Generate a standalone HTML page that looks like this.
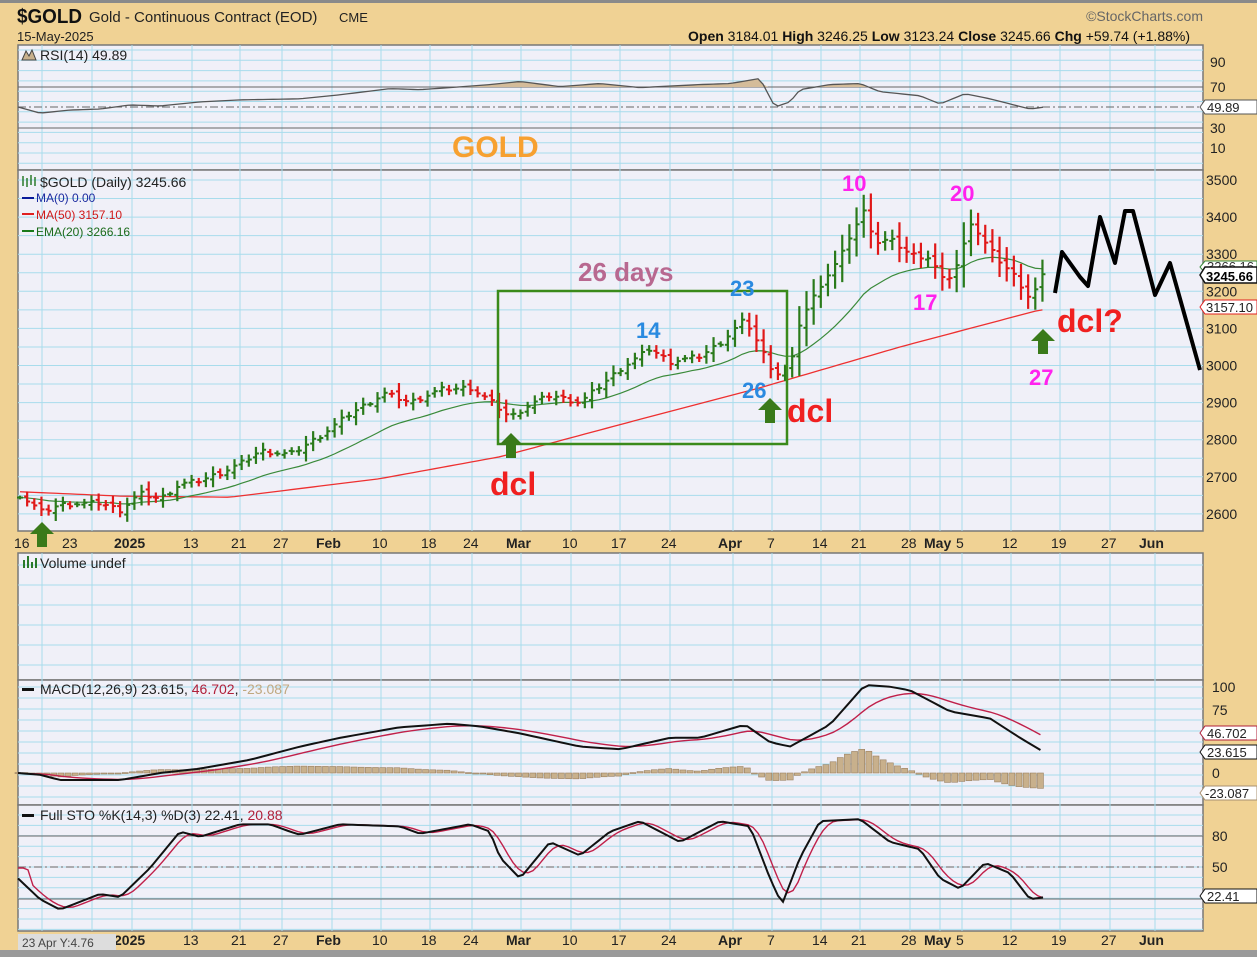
<!DOCTYPE html>
<html><head><meta charset="utf-8"><style>
html,body{margin:0;padding:0;}
body{width:1257px;height:957px;background:#f0d294;overflow:hidden;font-family:"Liberation Sans",sans-serif;}
svg{display:block}
</style></head><body>
<svg id="s" width="1257" height="957" xmlns="http://www.w3.org/2000/svg" font-family="Liberation Sans, sans-serif">
<rect x="0" y="0" width="1257" height="957" fill="#f0d294"/>
<rect x="0" y="0" width="1257" height="3" fill="#8a8a8a"/>
<rect x="0" y="950" width="1257" height="7" fill="#9a9a9a"/>
<g id="panels"></g>
<g id="grid"></g>
<g id="data"></g>
<!-- header -->
<text x="17" y="23" font-size="20" font-weight="bold" fill="#111" textLength="65" lengthAdjust="spacingAndGlyphs">$GOLD</text>
<text x="89" y="22" font-size="15" fill="#222">Gold - Continuous Contract (EOD)</text>
<text x="339" y="22" font-size="13" fill="#222">CME</text>
<text x="17" y="41" font-size="13" fill="#222">15-May-2025</text>
<text x="1203" y="21" font-size="14" fill="#666" text-anchor="end">©StockCharts.com</text>
<text x="1190" y="41" font-size="14" fill="#111" text-anchor="end"><tspan font-weight="bold">Open</tspan> 3184.01 <tspan font-weight="bold">High</tspan> 3246.25 <tspan font-weight="bold">Low</tspan> 3123.24 <tspan font-weight="bold">Close</tspan> 3245.66 <tspan font-weight="bold">Chg</tspan> +59.74 (+1.88%)</text>
<!-- panel titles -->
<text x="40" y="60" font-size="14" fill="#222">RSI(14) 49.89</text>
<path d="M22,60 l4,-9 l3,5 l3,-6 l4,10z" fill="#c8b08c" stroke="#444" stroke-width="1"/>
<text x="40" y="187" font-size="14" fill="#222">$GOLD (Daily) 3245.66</text>
<path d="M23,176v10M27,178v9M31,175v10M35,177v9" stroke="#2a7a2a" stroke-width="1.5"/>
<rect x="22" y="197" width="12" height="2" fill="#0a1a9a"/><text x="36" y="202" font-size="12" fill="#1a2aa0">MA(0) 0.00</text>
<rect x="22" y="213" width="12" height="2" fill="#e02020"/><text x="36" y="219" font-size="12" fill="#d01818">MA(50) 3157.10</text>
<rect x="22" y="230" width="12" height="2" fill="#1a7a1a"/><text x="36" y="236" font-size="12" fill="#1a6a1a">EMA(20) 3266.16</text>
<text x="40" y="568" font-size="14" fill="#222">Volume undef</text>
<path d="M24,568v-8M28,568v-12M32,568v-6M36,568v-10" stroke="#2a7a2a" stroke-width="2"/>
<rect x="22" y="688" width="12" height="3" fill="#111"/>
<text x="40" y="694" font-size="14" fill="#222">MACD(12,26,9) 23.615, <tspan fill="#b0203a">46.702</tspan>, <tspan fill="#c0a880">-23.087</tspan></text>
<rect x="22" y="814" width="12" height="3" fill="#111"/>
<text x="40" y="820" font-size="14" fill="#222">Full STO %K(14,3) %D(3) 22.41, <tspan fill="#b0203a">20.88</tspan></text>
<!-- annotations -->
<text x="452" y="157" font-size="30" font-weight="bold" fill="#f7a030">GOLD</text>
<text x="578" y="281" font-size="26" font-weight="bold" fill="#b86890">26 days</text>
<rect x="498" y="291" width="289" height="153" fill="none" stroke="#3a8a1a" stroke-width="2.5"/>
<g font-weight="bold" font-size="22">
<text x="842" y="191" fill="#ff22ee">10</text>
<text x="950" y="201" fill="#ff22ee">20</text>
<text x="913" y="310" fill="#ff22ee">17</text>
<text x="1029" y="385" fill="#ff22ee">27</text>
<text x="730" y="296" fill="#2a8ae0">23</text>
<text x="636" y="338" fill="#2a8ae0">14</text>
<text x="742" y="398" fill="#2a8ae0">26</text>
</g>
<g font-weight="bold" font-size="32" fill="#f02020">
<text x="490" y="495">dcl</text>
<text x="787" y="422">dcl</text>
<text x="1057" y="332">dcl?</text>
</g>
<g fill="#3a7a1a">
<path d="M42,522 l-12,12 h7 v13 h10 v-13 h7z"/>
<path d="M511,433 l-12,12 h7 v13 h10 v-13 h7z"/>
<path d="M770,398 l-12,12 h7 v13 h10 v-13 h7z"/>
<path d="M1043,329 l-12,12 h7 v13 h10 v-13 h7z"/>
</g>
<polyline points="1055,293 1062,252 1080,277 1088,286 1100,217 1115,263 1125,211 1133,211 1155,295 1170,263 1200,370" fill="none" stroke="#000" stroke-width="4" stroke-linejoin="round"/>
<!-- right value boxes -->
<g font-size="13">
<path d="M1200,267 l5,-6 h52 v12 h-52z" fill="#fff" stroke="#3a8a3a"/>
<text x="1207" y="271" fill="#333">3266.16</text>
<path d="M1200,275 l5,-8 h52 v16 h-52z" fill="#fff" stroke="#111" stroke-width="1.5"/>
<text x="1206" y="281" fill="#000" font-weight="bold">3245.66</text>
<path d="M1200,307 l5,-7 h52 v14 h-52z" fill="#fff" stroke="#e02020"/>
<text x="1206" y="312" fill="#222">3157.10</text>
<path d="M1200,107 l5,-7 h52 v14 h-52z" fill="#fff" stroke="#555"/>
<text x="1207" y="112" fill="#222">49.89</text>
<path d="M1200,733 l5,-7 h52 v14 h-52z" fill="#fff" stroke="#b0203a"/>
<text x="1207" y="738" fill="#222">46.702</text>
<path d="M1200,752 l5,-7 h52 v14 h-52z" fill="#fff" stroke="#111"/>
<text x="1207" y="757" fill="#222">23.615</text>
<path d="M1200,793 l5,-7 h52 v14 h-52z" fill="#fff" stroke="#a89070"/>
<text x="1205" y="798" fill="#222">-23.087</text>
<path d="M1200,896 l5,-7 h52 v14 h-52z" fill="#fff" stroke="#111"/>
<text x="1207" y="901" fill="#222">22.41</text>
</g>
<rect x="18" y="934" width="98" height="16" fill="#ddd"/>
<text x="22" y="947" font-size="12" fill="#444">23 Apr Y:4.76</text>
</svg>
<script>
var NS="http://www.w3.org/2000/svg";
function el(p,t,a,txt){var e=document.createElementNS(NS,t);for(var k in a)e.setAttribute(k,a[k]);if(txt!==undefined)e.textContent=txt;p.appendChild(e);return e;}
var P=document.getElementById('panels'),G=document.getElementById('grid'),D=document.getElementById('data');
var L=18,R=1203;
var panels=[[45,170],[170,531],[553,680],[680,805],[805,931]];
panels.forEach(function(p){el(P,'rect',{x:L,y:p[0],width:R-L,height:p[1]-p[0],fill:'#f0f0f8',stroke:'#777','stroke-width':1.5});});
var vx=[42,92,132,192,240,282,332,381,430,472,521,571,620,670,733,772,821,860,910,940,962,1011,1060,1110,1155];
panels.forEach(function(p){vx.forEach(function(x){el(G,'line',{x1:x,x2:x,y1:p[0],y2:p[1],stroke:'#a8dcec','stroke-width':1});});});
function hg(y){el(G,'line',{x1:L,x2:R,y1:y,y2:y,stroke:'#a8dcec','stroke-width':1});}
for(var y=50;y<170;y+=10.3)hg(y);
function py(p){return 180+(3500-p)*0.371;}
for(var p=2600;p<=3500;p+=50)hg(py(p));
for(var y=565;y<680;y+=20)hg(y);
for(var y=687;y<805;y+=11)hg(y);
for(var y=815;y<931;y+=10.4)hg(y);
function lv(y,dash){var a={x1:L,x2:R,y1:y,y2:y,stroke:'#666','stroke-width':1};if(dash)a['stroke-dasharray']='8,3,2,3';el(G,'line',a);}
lv(87);lv(128);lv(107,1);lv(836);lv(899);lv(867,1);
function axl(x,y,t,b){el(D,'text',{x:x,y:y,'font-size':14,fill:'#222','font-weight':b?'bold':'normal'},t);}
[3500,3400,3300,3200,3100,3000,2900,2800,2700,2600].forEach(function(v){axl(1206,py(v)+5,String(v));});
[[90,62],[70,87],[30,128],[10,148]].forEach(function(v){axl(1210,v[1]+5,String(v[0]));});
[[100,687],[75,710],[0,773]].forEach(function(v){axl(1212,v[1]+5,String(v[0]));});
[[80,836],[50,867]].forEach(function(v){axl(1212,v[1]+5,String(v[0]));});
var dl=[[14,'16'],[62,'23'],[114,'2025',1],[183,'13'],[231,'21'],[273,'27'],[316,'Feb',1],[372,'10'],[421,'18'],[463,'24'],[506,'Mar',1],[562,'10'],[611,'17'],[661,'24'],[718,'Apr',1],[767,'7'],[812,'14'],[851,'21'],[901,'28'],[924,'May',1],[956,'5'],[1002,'12'],[1051,'19'],[1101,'27'],[1139,'Jun',1]];
dl.forEach(function(d){axl(d[0],548,d[1],d[2]);if(d[0]>110)axl(d[0],945,d[1],d[2]);});
function lin(pts,x){if(x<=pts[0][0])return pts[0][1];for(var i=1;i<pts.length;i++){if(x<=pts[i][0]){var a=pts[i-1],b=pts[i];return a[1]+(b[1]-a[1])*(x-a[0])/(b[0]-a[0]);}}return pts[pts.length-1][1];}
var price=[[20,2650],[42,2605],[60,2625],[100,2630],[120,2610],[140,2655],[160,2640],[180,2680],[200,2690],[220,2710],[240,2735],[260,2770],[290,2760],[320,2810],[350,2870],[385,2925],[410,2900],[440,2935],[470,2940],[490,2905],[510,2860],[530,2895],[550,2920],[580,2900],[600,2945],[620,2990],[650,3045],[670,3010],[700,3025],[720,3060],[745,3125],[760,3050],[775,2975],[790,2990],[800,3120],[820,3215],[840,3290],[850,3350],[865,3420],[875,3330],[890,3340],[910,3300],[930,3290],[945,3220],[960,3285],[970,3390],[985,3330],[1000,3280],[1015,3240],[1030,3180],[1045,3246]];
var xs=[];for(var x=20;x<=1045;x+=7.15)xs.push(x);
var closes=xs.map(function(x,i){return lin(price,x)+((i*37)%7-3)*2;});
closes[closes.length-1]=3246;
var ema=[],e=closes[0];closes.forEach(function(c){e=e+(c-e)*2/21;ema.push(e);});
var ma=[[18,2660],[120,2648],[230,2645],[380,2695],[500,2754],[640,2855],[760,2940],[900,3050],[1040,3150]];
var s='';xs.forEach(function(x){s+=x+','+py(lin(ma,x))+' ';});
el(D,'polyline',{points:s,fill:'none',stroke:'#ee3030','stroke-width':1.3});
s='';xs.forEach(function(x,i){s+=x+','+py(ema[i])+' ';});
el(D,'polyline',{points:s,fill:'none',stroke:'#3a8a3a','stroke-width':1.2});
xs.forEach(function(x,i){var c=closes[i],o=i?closes[i-1]+((i*13)%5-2)*3:c;var rng=10+((i*29)%7)*3+Math.abs(c-o);if(x>800)rng+=25;var hi=Math.max(o,c)+rng*0.5,lo=Math.min(o,c)-rng*0.5;var col=(i==0||c>=closes[i-1])?'#2a7a1a':'#e01818';
el(D,'line',{x1:x,x2:x,y1:py(hi),y2:py(lo),stroke:col,'stroke-width':2.2});
el(D,'line',{x1:x-3,x2:x,y1:py(o),y2:py(o),stroke:col,'stroke-width':2});
el(D,'line',{x1:x,x2:x+3,y1:py(c),y2:py(c),stroke:col,'stroke-width':2});});
var rsi=[[18,50],[40,44],[70,47],[100,48],[130,52],[160,51],[200,55],[240,57],[300,58],[340,62],[390,68],[420,67],[450,69],[490,72],[520,75],[560,70],[600,73],[640,69],[700,72],[730,73],[760,78],[775,50],[790,55],[800,67],[830,72],[860,73],[880,65],[920,61],[940,53],[965,63],[990,58],[1010,53],[1030,48],[1045,50]];
function ry(v){return 107-(v-50)*1.02;}
s='';var pts=[];for(var x=18;x<=1045;x+=5){pts.push([x,ry(lin(rsi,x))]);}
var fill='M18,87 ';pts.forEach(function(p){fill+='L'+p[0]+','+Math.min(p[1],87)+' ';});fill+='L1045,87Z';
el(D,'path',{d:fill,fill:'#d4bc9a'});
pts.forEach(function(p){s+=p[0]+','+p[1]+' ';});
el(D,'polyline',{points:s,fill:'none',stroke:'#555','stroke-width':1.3});
var macd=[[18,0],[40,-2],[60,-8],[120,-8],[160,0],[200,5],[250,15],[300,30],[340,40],[400,52],[450,56],[480,53],[520,45],[580,30],[620,27],[670,40],[700,40],[745,55],[770,35],[790,30],[830,55],[865,100],[890,98],[910,94],[950,70],[990,62],[1020,40],[1045,23]];
function my(v){return 773-v*0.88;}
var mv=[],sg=[],sv=0;for(var x=18;x<=1045;x+=7.15){var v=lin(macd,x);mv.push([x,v]);sv=sv?sv+(v-sv)*0.2:v;sg.push([x,sv]);}
mv.forEach(function(p,i){var h=p[1]-sg[i][1];if(Math.abs(h)<0.5)h=h<0?-0.5:0.5;var y1=my(0),y2=my(h);el(D,'rect',{x:p[0]-3,y:Math.min(y1,y2),width:6,height:Math.max(1,Math.abs(y2-y1)),fill:'#c8b08c',stroke:'#9a8060','stroke-width':0.6});});
s='';sg.forEach(function(p){s+=p[0]+','+my(p[1])+' ';});el(D,'polyline',{points:s,fill:'none',stroke:'#c0204a','stroke-width':1.4});
s='';mv.forEach(function(p){s+=p[0]+','+my(p[1])+' ';});el(D,'polyline',{points:s,fill:'none',stroke:'#111','stroke-width':2});
var k=[[18,40],[40,20],[60,10],[100,25],[120,22],[150,50],[180,85],[200,80],[240,92],[270,92],[290,85],[300,82],[340,92],[400,90],[420,83],[470,92],[490,85],[500,60],[520,40],[550,75],[580,62],[610,85],[640,95],[680,75],[720,95],[750,90],[770,40],[782,15],[800,60],[820,95],[860,97],[890,75],[920,68],[940,40],[960,30],[985,55],[1010,45],[1030,20],[1045,22]];
function sy(v){return 920-v*1.04;}
var kv=[],dv=[];for(var x=18;x<=1045;x+=5){kv.push([x,lin(k,x)]);}
kv.forEach(function(p,i){var a=0,n=0;for(var j=Math.max(0,i-3);j<=i;j++){a+=kv[j][1];n++;}dv.push([p[0],i<3?lin(k,p[0]-8)+10:a/n]);});
s='';dv.forEach(function(p){s+=p[0]+','+sy(p[1])+' ';});el(D,'polyline',{points:s,fill:'none',stroke:'#c0204a','stroke-width':1.4});
s='';kv.forEach(function(p){s+=p[0]+','+sy(p[1])+' ';});el(D,'polyline',{points:s,fill:'none',stroke:'#111','stroke-width':2});
</script>
</body></html>
